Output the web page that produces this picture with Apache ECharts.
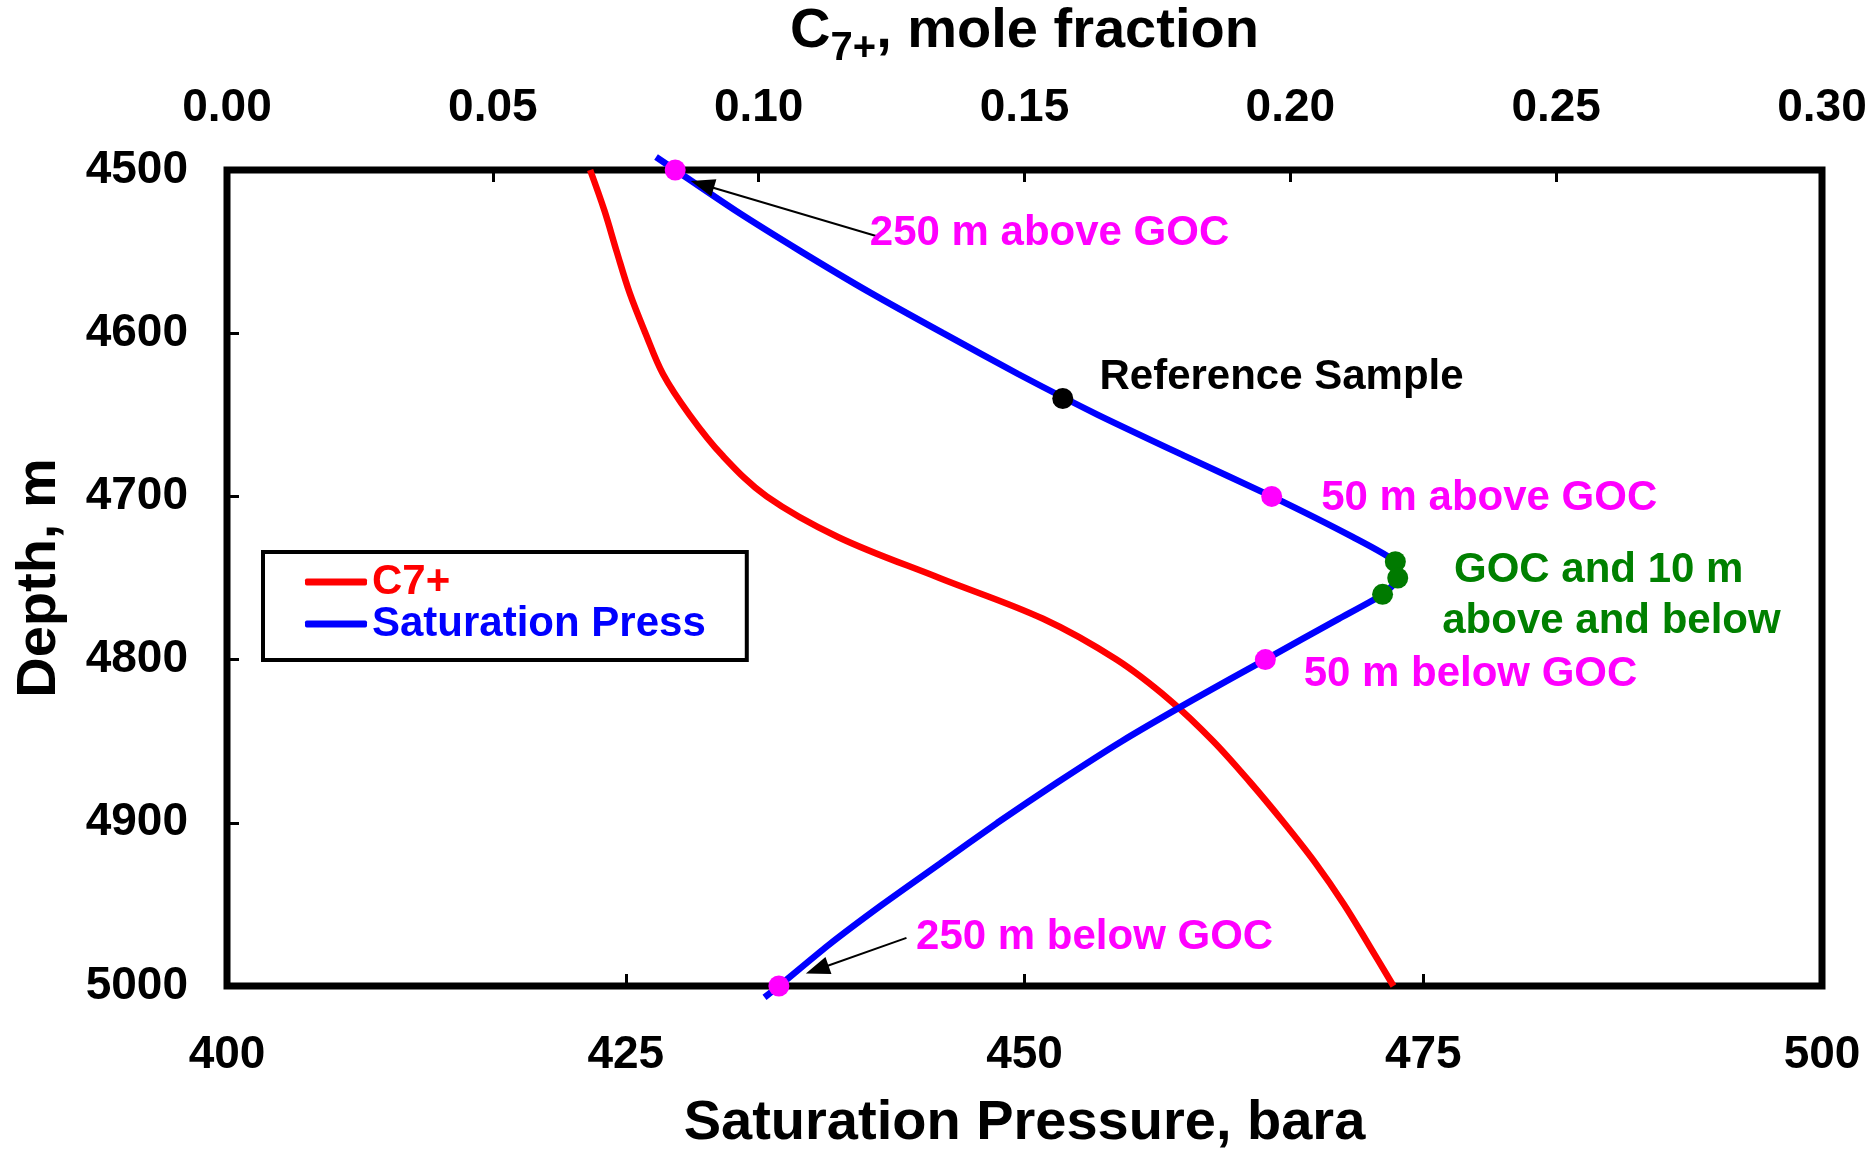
<!DOCTYPE html>
<html>
<head>
<meta charset="utf-8">
<script src="https://cdn.jsdelivr.net/npm/echarts@6.0.0/dist/echarts.min.js"></script>
<style>
html,body{margin:0;padding:0;background:#ffffff;}
#chart{width:1870px;height:1150px;}
</style>
</head>
<body>
<div id="chart"></div>
<script>
// ---------- data ----------
// Saturation pressure (bara) versus depth (m)
const satDepth = [4492, 4500, 4525, 4550, 4575, 4600, 4625, 4650, 4675, 4700, 4725, 4740, 4750, 4760, 4775, 4800, 4825, 4850, 4875, 4900, 4925, 4950, 4975, 5000, 5007];
const satPress = [426.9, 428.1, 431.9, 436.0, 440.3, 444.9, 449.6, 454.6, 460.0, 465.5, 470.6, 473.25, 473.4, 472.45, 469.7, 465.1, 460.5, 456.1, 452.1, 448.3, 444.7, 441.1, 437.7, 434.6, 433.7];

// C7+ mole fraction versus depth (m)
const c7Depth = [4500, 4525, 4550, 4575, 4600, 4625, 4650, 4675, 4700, 4725, 4750, 4775, 4800, 4825, 4850, 4875, 4900, 4925, 4950, 4975, 5000];
const c7Frac  = [0.0683, 0.0710, 0.0733, 0.0757, 0.0787, 0.0820, 0.0870, 0.0932, 0.1015, 0.1150, 0.1340, 0.1535, 0.1673, 0.1774, 0.1855, 0.1924, 0.1988, 0.2048, 0.2101, 0.2148, 0.2194];

// highlighted samples on the saturation-pressure curve
const magentaDepth = [4500, 4700, 4800, 5000];
const magentaPress = [428.1, 465.5, 465.1, 434.6];
const refDepth = [4640];
const refPress = [452.4];
const gocDepth = [4740, 4750, 4760];
const gocPress = [473.25, 473.4, 472.45];

// annotation texts (anchor given in pressure / depth units)
const annText  = ['250 m above GOC', 'Reference Sample', '50 m above GOC', 'GOC and 10 m', 'above and below', '50 m below GOC', '250 m below GOC'];
const annPress = [440.3, 454.7, 468.6, 486.0, 486.8, 467.5, 443.2];
const annDepth = [4539, 4627, 4701.5, 4745.6, 4776.8, 4809, 4970];
const annColor = ['#FF00FF', '#000000', '#FF00FF', '#008000', '#008000', '#FF00FF', '#FF00FF'];
const annAlign = ['left', 'left', 'left', 'center', 'center', 'left', 'left'];

// arrows (from text to point)
const arrowFromPress = [440.7, 442.6];
const arrowFromDepth = [4540.4, 4970.5];
const arrowToPress   = [429.8, 437.0];
const arrowToDepth   = [4508.9, 4989.9];

// axis ticks
const pressTicks = [400, 425, 450, 475, 500];
const c7Ticks    = [0.00, 0.05, 0.10, 0.15, 0.20, 0.25, 0.30];
const depthTicks = [4500, 4600, 4700, 4800, 4900, 5000];

// ---------- chart ----------
const FONT = '"Liberation Sans", Arial, Helvetica, sans-serif';
const zip = (a, b) => a.map((v, i) => [v, b[i]]);

const tickStyle = {show: true, inside: true, length: 12, lineStyle: {color: '#000', width: 3}};
const labelStyle = {color: '#000', fontSize: 46, fontWeight: 'bold', fontFamily: FONT};
const titleStyle = {color: '#000', fontSize: 56, fontWeight: 'bold', fontFamily: FONT};

const annData = annText.map((t, i) => ({
  value: [annPress[i], annDepth[i]],
  label: {
    show: true,
    formatter: t,
    position: annAlign[i] === 'center' ? 'inside' : 'right',
    distance: 0,
    color: annColor[i],
    fontSize: 42,
    fontWeight: 'bold',
    fontFamily: FONT,
    textBorderWidth: 0,
    textShadowBlur: 0,
    opacity: 1
  }
}));

const arrowData = arrowFromPress.map((p, i) => [
  {coord: [p, arrowFromDepth[i]], symbol: 'none'},
  {coord: [arrowToPress[i], arrowToDepth[i]], symbol: 'triangle', symbolSize: [18, 24]}
]);

const option = {
  animation: false,
  backgroundColor: '#ffffff',
  grid: {
    left: 227, right: 48, top: 170, bottom: 164,
    show: true, borderColor: '#000', borderWidth: 7,
    containLabel: false,
    outerBoundsMode: 'none'
  },
  legend: {
    orient: 'vertical',
    left: 263, top: 552,
    padding: [9, 41, 15, 42],
    borderColor: '#000', borderWidth: 4,
    itemGap: 0,
    itemWidth: 62, itemHeight: 7,
    icon: 'roundRect',
    textStyle: {fontSize: 42, fontWeight: 'bold', fontFamily: FONT, lineHeight: 40},
    data: [
      {name: 'C7+', textStyle: {color: '#FF0000'}},
      {name: 'Saturation Press', textStyle: {color: '#0000FF'}}
    ]
  },
  xAxis: [
    {
      type: 'value', position: 'bottom',
      min: pressTicks[0], max: pressTicks[pressTicks.length - 1], interval: pressTicks[1] - pressTicks[0],
      axisLine: {show: false}, axisTick: tickStyle, splitLine: {show: false},
      axisLabel: Object.assign({margin: 46, formatter: v => String(v)}, labelStyle),
      name: 'Saturation Pressure, bara', nameLocation: 'middle', nameGap: 110,
      nameTextStyle: titleStyle
    },
    {
      type: 'value', position: 'top',
      min: c7Ticks[0], max: c7Ticks[c7Ticks.length - 1], interval: 0.05,
      axisLine: {show: false}, axisTick: tickStyle, splitLine: {show: false},
      axisLabel: Object.assign({margin: 39, formatter: v => v.toFixed(2)}, labelStyle),
      name: '{m|C}{s|7+}{m|, mole fraction}', nameLocation: 'middle', nameGap: 101,
      nameTextStyle: {
        rich: {
          m: titleStyle,
          s: {color: '#000', fontSize: 40, fontWeight: 'bold', fontFamily: FONT, padding: [34, 0, 0, 0]}
        }
      }
    }
  ],
  yAxis: [{
    type: 'value', inverse: true,
    min: depthTicks[0], max: depthTicks[depthTicks.length - 1], interval: depthTicks[1] - depthTicks[0],
    axisLine: {show: false}, axisTick: tickStyle, splitLine: {show: false},
    axisLabel: Object.assign({margin: 39, formatter: v => String(v)}, labelStyle),
    name: 'Depth, m', nameLocation: 'middle', nameGap: 159, nameRotate: 90,
    nameTextStyle: titleStyle
  }],
  series: [
    {
      name: 'C7+', type: 'line', xAxisIndex: 1, yAxisIndex: 0,
      data: zip(c7Frac, c7Depth), showSymbol: false, symbol: 'none',
      smooth: 0.35, color: '#FF0000',
      lineStyle: {color: '#FF0000', width: 6.5}, z: 3
    },
    {
      name: 'Saturation Press', type: 'line', xAxisIndex: 0, yAxisIndex: 0,
      data: zip(satPress, satDepth), showSymbol: false, symbol: 'none',
      smooth: 0.2, clip: false, color: '#0000FF',
      lineStyle: {color: '#0000FF', width: 6.5}, z: 4
    },
    {
      name: 'samples', type: 'scatter', xAxisIndex: 0, yAxisIndex: 0, clip: false,
      data: zip(magentaPress, magentaDepth), symbolSize: 21,
      itemStyle: {color: '#FF00FF', opacity: 1}, z: 6
    },
    {
      name: 'reference', type: 'scatter', xAxisIndex: 0, yAxisIndex: 0, clip: false,
      data: zip(refPress, refDepth), symbolSize: 21,
      itemStyle: {color: '#000000', opacity: 1}, z: 6
    },
    {
      name: 'goc', type: 'scatter', xAxisIndex: 0, yAxisIndex: 0, clip: false,
      data: zip(gocPress, gocDepth), symbolSize: 21,
      itemStyle: {color: '#007A00', opacity: 1}, z: 6
    },
    {
      name: 'annotations', type: 'scatter', xAxisIndex: 0, yAxisIndex: 0, clip: false,
      data: annData, symbolSize: 0, silent: true, z: 7,
      itemStyle: {color: '#000', opacity: 1},
      markLine: {
        silent: true, animation: false,
        lineStyle: {color: '#000', width: 2, type: 'solid', opacity: 1},
        label: {show: false},
        emphasis: {disabled: true},
        data: arrowData
      }
    }
  ]
};

const chart = echarts.init(document.getElementById('chart'), null, {renderer: 'canvas'});
chart.setOption(option);
</script>
</body>
</html>
